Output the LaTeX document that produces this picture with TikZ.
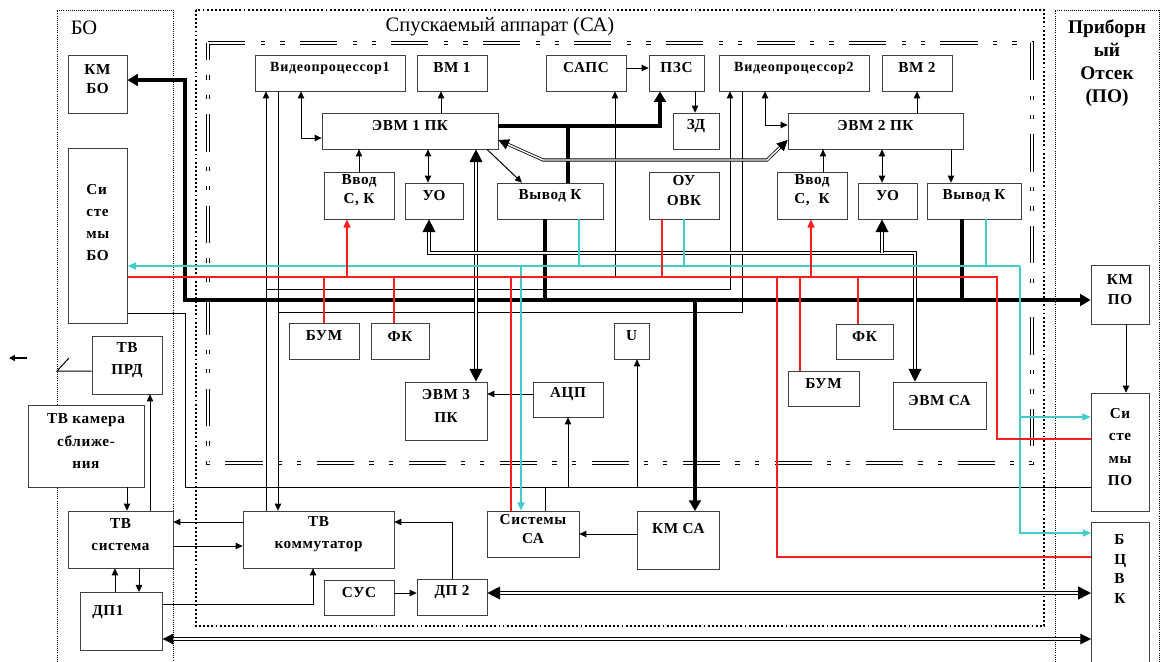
\documentclass[tikz,border=0pt]{standalone}
\usepackage{fontspec}
\setmainfont{Liberation Serif}
\usetikzlibrary{arrows.meta,fit}
\definecolor{wirecyan}{RGB}{64,204,204}
\definecolor{wirered}{RGB}{255,30,30}

\begin{document}
\begin{tikzpicture}[
    x=0.03cm, y=-0.03cm,
    blk/.style={draw=black!75, fill=white, line width=0.6pt, inner sep=0pt, align=left, font=\bfseries\fontsize{13}{16.5}\selectfont\addfontfeature{LetterSpace=4}},
    roomy/.style={font=\bfseries\fontsize{13}{19}\selectfont\addfontfeature{LetterSpace=4}},
    vid/.style={font=\bfseries\fontsize{12}{13}\selectfont\addfontfeature{LetterSpace=5}},
    wire/.style={line width=0.85pt},
    arr/.style={wire, -{Triangle[length=6pt,width=5.5pt]}},
    twoarr/.style={wire, {Triangle[length=6pt,width=5.5pt]}-{Triangle[length=6pt,width=5.5pt]}},
    bus/.style={line width=2.8pt},
    busarr/.style={bus, -{Triangle[length=9pt,width=10pt]}},
    twobus/.style={bus, {Triangle[length=9pt,width=10pt]}-{Triangle[length=9pt,width=10pt]}},
    dbl/.style={double, line width=1.2pt, double distance=1.3pt},
    dblarr/.style={dbl, -{Triangle[length=11pt,width=11pt]}},
    twodbl/.style={dbl, {Triangle[length=11pt,width=11pt]}-{Triangle[length=11pt,width=11pt]}},
    thindbl/.style={double, line width=0.7pt, double distance=1.2pt, {Triangle[length=9pt,width=9pt]}-{Triangle[length=9pt,width=9pt]}},
    cy/.style={line width=1pt, draw=wirecyan},
    cyarr/.style={cy, -{Triangle[length=7pt,width=6pt]}},
    rd/.style={line width=1pt, draw=wirered},
    rdarr/.style={rd, -{Triangle[length=7pt,width=6pt]}},
    zone/.style={line width=0.5pt, dash pattern=on 0.6pt off 1.2pt},
    sazone/.style={line width=1.6pt, dash pattern=on 1.6pt off 1.9pt},
    sainner/.style={double, line width=0.9pt, double distance=1.3pt, dash pattern=on 32pt off 13.5pt on 3.5pt off 12.8pt on 3.5pt off 12.8pt},
    title/.style={font=\fontsize{17.5}{19}\selectfont}
]
\useasboundingbox (0,0) rectangle (1162,661);
% Zones
\draw[zone] (57,670) -- (57,10) -- (173,10) -- (173,670);
\draw[zone] (1055,670) -- (1055,10) -- (1159,10) -- (1159,670);
\draw[sazone] (196,10) rectangle (1044,626);
\draw[sainner] (208,43) -- (1032,43) -- (1032,463) -- (208,463) -- cycle;
\node[title] (lbbo) at (84,28) {БО};
\node[title] (lbsa) at (500,27) {Спускаемый аппарат (СА)};
\node[title, font=\bfseries\fontsize{16.5}{19.5}\selectfont, align=center] (lbpo) at (1107,63) {Приборн\\ый\\Отсек\\(ПО)};
% BO blocks
\node[blk, fit={(68,55) (127,113)}] (kmbo) {КМ\\БО};
\node[blk, roomy, anchor=north west, minimum width=1.77cm, minimum height=5.25cm, text depth=0.81cm] (sysbo) at (68,148) {Си\\сте\\мы\\БО};
\node[blk, roomy, fit={(92,336) (162,394)}] (tvprd) {ТВ\\ПРД};
\node[blk, roomy, fit={(28,405) (144,487)}] (tvcam) {ТВ камера\\сближе-\\ния};
\node[blk, roomy, fit={(68,511) (173,568)}] (tvsys) {ТВ\\система};
\node[blk, anchor=north west, minimum width=2.46cm, minimum height=1.74cm, text width=1.74cm, text height=0.3cm, text depth=0.66cm] (dp1) at (80,592) {ДП1};
% SA blocks
\node[blk, roomy, fit={(243,511) (394,568)}] (tvkom) {ТВ\\коммутатор};
\node[blk, fit={(324,580) (394,615)}] (sus) {СУС};
\node[blk, fit={(417,579) (487,615)}] (dp2) {ДП 2};
\node[blk, fit={(487,511) (579,557)}] (syssa) {Системы\\СА};
\node[blk, anchor=north west, minimum width=2.46cm, minimum height=1.74cm, text height=0.3cm, text depth=0.72cm] (kmsa) at (637,511) {КМ СА};
\node[blk, vid, fit={(255,55) (405,91)}] (vp1) {Видеопроцессор1};
\node[blk, fit={(417,55) (487,91)}] (vm1) {ВМ 1};
\node[blk, fit={(546,55) (626,91)}] (saps) {САПС};
\node[blk, fit={(649,55) (704,91)}] (pzs) {ПЗС};
\node[blk, vid, fit={(719,55) (869,91)}] (vp2) {Видеопроцессор2};
\node[blk, fit={(882,55) (952,91)}] (vm2) {ВМ 2};
\node[blk, fit={(673,113) (719,149)}] (zd) {ЗД};
\node[blk, fit={(322,113) (498,149)}] (evm1) {ЭВМ 1 ПК};
\node[blk, fit={(788,113) (963,149)}] (evm2) {ЭВМ 2 ПК};
\node[blk, fit={(324,172) (394,219)}] (vvod1) {Ввод\\С, К};
\node[blk, fit={(405,183) (463,219)}] (uo1) {УО};
\node[blk, fit={(497,183) (603,219)}] (vyv1) {Вывод К};
\node[blk, fit={(649,172) (719,219)}] (ouovk) {ОУ\\ОВК};
\node[blk, fit={(777,172) (847,219)}] (vvod2) {Ввод\\С,\ \ К};
\node[blk, fit={(858,183) (917,219)}] (uo2) {УО};
\node[blk, fit={(927,183) (1021,219)}] (vyv2) {Вывод К};
\node[blk, fit={(289,323) (359,359)}] (bum1) {БУМ};
\node[blk, fit={(371,323) (429,359)}] (fk1) {ФК};
\node[blk, fit={(614,323) (649,359)}] (u) {U};
\node[blk, fit={(836,324) (893,359)}] (fk2) {ФК};
\node[blk, fit={(788,371) (859,406)}] (bum2) {БУМ};
\node[blk, fit={(893,382) (986,429)}] (evmsa) {ЭВМ СА};
\node[blk, roomy, fit={(405,382) (487,440)}] (evm3) {ЭВМ 3\\ПК};
\node[blk, fit={(533,382) (603,417)}] (acp) {АЦП};
% PO blocks
\node[blk, fit={(1091,265) (1149,324)}] (kmpo) {КМ\\ПО};
\node[blk, roomy, fit={(1091,393) (1149,511)}] (syspo) {Си\\сте\\мы\\ПО};
\node[blk, font=\bfseries\fontsize{13}{16.6}\selectfont, anchor=north west, minimum width=1.74cm, minimum height=4.74cm, text depth=1.94cm] (bcvk) at (1091,522) {Б\\Ц\\В\\К};
% Main bus
\draw[twobus] (kmbo.east |- 0,80) -- (185,80) -- (185,300) -- (kmpo.west |- 0,300);
\draw[bus] (545,0 |- vyv1.south) -- (545,300);
\draw[bus] (962,0 |- vyv2.south) -- (962,300);
\draw[busarr] (evm1.east |- 0,126) -- (660,126) -- (660,0 |- pzs.south);
\draw[bus] (568,126) -- (568,0 |- vyv1.north);
\draw[busarr] (695,300) -- (695,0 |- kmsa.north);
% Thin links
\draw[arr] (359,0 |- vvod1.north) -- (359,0 |- evm1.south);
\draw[twoarr] (428,0 |- evm1.south) -- (428,0 |- uo1.north);
\draw[arr] (487,0 |- evm1.south) -- (522,0 |- vyv1.north);
\draw[arr] (441,0 |- evm1.north) -- (441,0 |- vm1.south);
\draw[twoarr] (301,0 |- vp1.south) -- (301,138) -- (evm1.west |- 0,138);
\draw[arr] (saps.east |- 0,68) -- (pzs.west |- 0,68);
\draw[arr] (695,0 |- pzs.south) -- (695,0 |- zd.north);
\draw[arr] (917,0 |- evm2.north) -- (917,0 |- vm2.south);
\draw[twoarr] (765,0 |- vp2.south) -- (765,125) -- (evm2.west |- 0,125);
\draw[arr] (823,0 |- vvod2.north) -- (823,0 |- evm2.south);
\draw[twoarr] (882,0 |- evm2.south) -- (882,0 |- uo2.north);
\draw[arr] (951,0 |- evm2.south) -- (951,0 |- vyv2.north);
\draw[arr] (acp.west |- 0,394) -- (evm3.east |- 0,394);
\draw[arr] (615,277) -- (615,0 |- saps.south);
\draw[arr] (568,487) -- (568,0 |- acp.south);
\draw[arr] (637,487) -- (637,0 |- u.south);
\draw[wire] (545,487) -- (545,0 |- syssa.north);
\draw[wire] (sysbo.east |- 0,313) -- (185,313) -- (185,487) -- (syspo.west |- 0,487);
\draw[arr] (266,0 |- tvkom.north) -- (266,0 |- vp1.south);
\draw[arr] (278,0 |- vp1.south) -- (278,0 |- tvkom.north);
\draw[arr] (266,289) -- (730,289) -- (730,0 |- vp2.south);
\draw[wire] (742,0 |- vp2.south) -- (742,312) -- (278,312);
\draw[arr] (tvkom.west |- 0,522) -- (tvsys.east |- 0,522);
\draw[arr] (tvsys.east |- 0,546) -- (tvkom.west |- 0,546);
\draw[arr] (127,0 |- tvcam.south) -- (127,0 |- tvsys.north);
\draw[arr] (150,0 |- tvsys.north) -- (150,0 |- tvprd.south);
\draw[arr] (115,0 |- dp1.north) -- (115,0 |- tvsys.south);
\draw[arr] (139,0 |- tvsys.south) -- (139,0 |- dp1.north);
\draw[arr] (dp1.east |- 0,604) -- (313,604) -- (313,0 |- tvkom.south);
\draw[arr] (sus.east |- 0,593) -- (dp2.west |- 0,593);
\draw[arr] (452,0 |- dp2.north) -- (452,522) -- (tvkom.east |- 0,522);
\draw[arr] (kmsa.west |- 0,534) -- (syssa.east |- 0,534);
\draw[arr] (1126,0 |- kmpo.south) -- (1126,0 |- syspo.north);
% Antenna
\coordinate (ant) at (69,358);
\coordinate (sigfrom) at (27,358);
\coordinate (sigto) at (9,358);
\draw[wire] (tvprd.west |- 0,371) -- (57,371) -- (ant);
\draw[line width=1.2pt, -{Triangle[length=5pt,width=5pt]}] (sigfrom) -- (sigto);
% Double links
\draw[twodbl] (476,0 |- evm1.south) -- (476,0 |- evm3.north);
\draw[twodbl] (429,0 |- uo1.south) -- (429,253) -- (915,253) -- (915,0 |- evmsa.north);
\draw[dblarr] (882,253) -- (882,0 |- uo2.south);
\draw[thindbl] (evm1.east |- 0,140) -- (543,160) -- (767,160) -- (evm2.west |- 0,140);
\draw[twodbl] (dp2.east |- 0,593) -- (bcvk.west |- 0,593);
\draw[thindbl] (dp1.east |- 0,639) -- (bcvk.west |- 0,639);
% Cyan links
\draw[cyarr] (1020,266) -- (sysbo.east |- 0,266);
\draw[cyarr] (1020,266) -- (1020,417) -- (syspo.west |- 0,417);
\draw[cyarr] (1020,417) -- (1020,533) -- (bcvk.west |- 0,533);
\draw[cy] (579,0 |- vyv1.south) -- (579,266);
\draw[cy] (684,0 |- ouovk.south) -- (684,266);
\draw[cy] (986,0 |- vyv2.south) -- (986,266);
\draw[cyarr] (521,266) -- (521,0 |- syssa.north);
% Red links
\draw[rd] (sysbo.east |- 0,277) -- (997,277) -- (997,439) -- (syspo.west |- 0,439);
\draw[rd] (777,277) -- (777,557) -- (bcvk.west |- 0,557);
\draw[rdarr] (347,277) -- (347,0 |- vvod1.south);
\draw[rd] (324,277) -- (324,0 |- bum1.north);
\draw[rd] (394,277) -- (394,0 |- fk1.north);
\draw[rd] (662,0 |- ouovk.south) -- (662,277);
\draw[rd] (511,277) -- (511,0 |- syssa.north);
\draw[rdarr] (811,277) -- (811,0 |- vvod2.south);
\draw[rd] (800,277) -- (800,0 |- bum2.north);
\draw[rd] (858,277) -- (858,0 |- fk2.north);
\end{tikzpicture}
\end{document}
